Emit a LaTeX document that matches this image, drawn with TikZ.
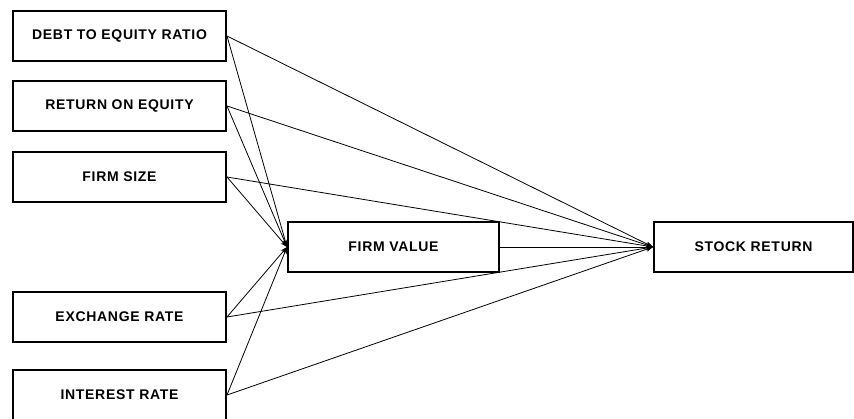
\documentclass[tikz,border=0pt]{standalone}
\usepackage{fontspec}
\setmainfont{Liberation Sans}
\newfontfamily\boxfont[LetterSpace=5]{Liberation Sans}
\usetikzlibrary{arrows.meta}
\begin{document}
\begin{tikzpicture}[x=1pt,y=-1pt,
  box/.style={draw, line width=2pt, minimum height=50pt, inner sep=0pt,
    font=\boxfont\bfseries\fontsize{14}{16}\selectfont, anchor=north west},
  conn/.style={line width=0.8pt, -{Stealth[length=7pt,width=5pt]}}]
\useasboundingbox (0,0) rectangle (854,418);
\node[box, minimum width=213pt] (der) at (12,10) {DEBT TO EQUITY RATIO};
\node[box, minimum width=213pt] (roe) at (12,80) {RETURN ON EQUITY};
\node[box, minimum width=213pt] (fs) at (12,151) {FIRM SIZE};
\node[box, minimum width=213pt] (er) at (12,291) {EXCHANGE RATE};
\node[box, minimum width=213pt] (ir) at (12,369) {INTEREST RATE};
\node[box, minimum width=211pt] (fv) at (287,221) {FIRM VALUE};
\node[box, minimum width=199pt] (sr) at (653,221) {STOCK RETURN};
\foreach \n in {der,roe,fs,er,ir}{
  \draw[conn] (\n.east) -- (fv.west);
  \draw[conn] (\n.east) -- (sr.west);
}
\draw[conn] (fv.east) -- (sr.west);
\end{tikzpicture}
\end{document}
